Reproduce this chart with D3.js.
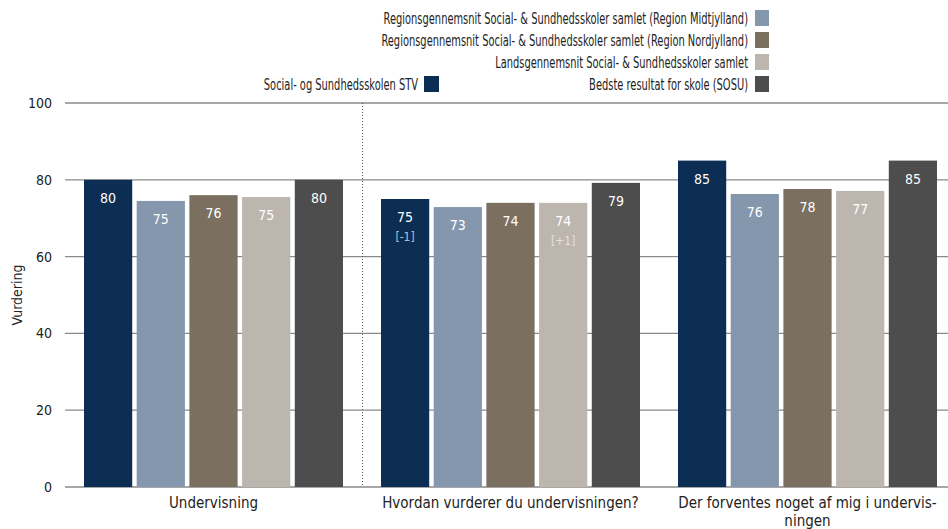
<!DOCTYPE html>
<html><head><meta charset="utf-8">
<script src="https://cdn.jsdelivr.net/npm/d3@7"></script>
<style>body{margin:0;background:#fff}svg{display:block}text{font-family:"DejaVu Sans Condensed","DejaVu Sans",sans-serif}</style>
</head><body><svg id="c" width="948" height="529"></svg>
<script>
const categories = ["Undervisning", "Hvordan vurderer du undervisningen?", "Der forventes noget af mig i undervis-|ningen"];
const seriesNames = [
  "Social- og Sundhedsskolen STV",
  "Regionsgennemsnit Social- & Sundhedsskoler samlet (Region Midtjylland)",
  "Regionsgennemsnit Social- & Sundhedsskoler samlet (Region Nordjylland)",
  "Landsgennemsnit Social- & Sundhedsskoler samlet",
  "Bedste resultat for skole (SOSU)"
];
const colors = ["#0c2e55", "#8597ac", "#7b6f5f", "#bdb6af", "#4d4d4d"];
const valuesSTV = [80, 75, 85];
const valuesMidt = [74.5, 72.9, 76.3];
const valuesNord = [76, 74, 77.6];
const valuesLand = [75.5, 74, 77.1];
const valuesBest = [80, 79.2, 85];
const labelsSTV = ["80", "75", "85"];
const labelsMidt = ["75", "73", "76"];
const labelsNord = ["76", "74", "78"];
const labelsLand = ["75", "74", "77"];
const labelsBest = ["80", "79", "85"];
const subSTV = ["", "[-1]", ""];
const subMidt = ["", "", ""];
const subNord = ["", "", ""];
const subLand = ["", "[+1]", ""];
const subBest = ["", "", ""];
const yTicks = [0, 20, 40, 60, 80, 100];

const allVals = [valuesSTV, valuesMidt, valuesNord, valuesLand, valuesBest];
const allLabels = [labelsSTV, labelsMidt, labelsNord, labelsLand, labelsBest];
const allSubs = [subSTV, subMidt, subNord, subLand, subBest];

const svg = d3.select("#c");
const mLeft = 65, mRight = 956, mTop = 103, mBottom = 487;
const x0 = d3.scaleBand().domain(categories).range([mLeft, mRight]).paddingInner(0).paddingOuter(0);
const x1 = d3.scaleBand().domain(d3.range(5)).range([19, 297 - 19]).paddingInner(0.085);
const y = d3.scaleLinear().domain([0, 100]).range([mBottom, mTop]);

// grid
svg.append("g").selectAll("line").data(yTicks).join("line")
  .attr("x1", mLeft).attr("x2", 948)
  .attr("y1", d => y(d)).attr("y2", d => y(d))
  .attr("stroke", "#8a8a8a").attr("stroke-width", 1.3);

// y axis labels
const yAxis = d3.axisLeft(y).tickValues(yTicks).tickSize(0).tickPadding(0);
const ga = svg.append("g").attr("transform", `translate(52,0)`).call(yAxis);
ga.select(".domain").remove();
ga.selectAll("text").attr("font-size", 14).attr("fill", "#222").style("font-family", '"DejaVu Sans Condensed",sans-serif');

// separator
svg.append("line").attr("x1", 362.5).attr("x2", 362.5).attr("y1", y(100)).attr("y2", y(0))
  .attr("stroke", "#555").attr("stroke-width", 1).attr("stroke-dasharray", "1,2");

// bars
const data = [];
categories.forEach((c, ci) => allVals.forEach((vs, si) => data.push({c, ci, si, v: vs[ci], lab: allLabels[si][ci], sub: allSubs[si][ci]})));
const g = svg.append("g");
g.selectAll("rect").data(data).join("rect")
  .attr("x", d => x0(d.c) + x1(d.si)).attr("width", x1.bandwidth())
  .attr("y", d => y(d.v)).attr("height", d => y(0) - y(d.v))
  .attr("fill", d => colors[d.si]);
g.selectAll("text.v").data(data).join("text").attr("class", "v")
  .attr("x", d => x0(d.c) + x1(d.si) + x1.bandwidth() / 2)
  .attr("y", d => y(d.v) + 23)
  .attr("text-anchor", "middle").attr("font-size", 14).attr("fill", "#fff").text(d => d.lab);
g.selectAll("text.s").data(data.filter(d => d.sub)).join("text").attr("class", "s")
  .attr("x", d => x0(d.c) + x1(d.si) + x1.bandwidth() / 2)
  .attr("y", d => y(d.v) + 42)
  .attr("text-anchor", "middle").attr("font-size", 12).attr("fill", "rgba(235,240,248,0.75)").text(d => d.sub);

// x labels
const xl = svg.append("g");
categories.forEach(c => {
  const t = xl.append("text").attr("x", x0(c) + x0.bandwidth() / 2).attr("y", 508)
    .attr("text-anchor", "middle").attr("font-size", 15).attr("fill", "#222");
  c.split("|").forEach((line, i) => t.append("tspan").attr("x", x0(c) + x0.bandwidth() / 2).attr("dy", i ? 18 : 0).text(line));
});

// y title
svg.append("text").attr("transform", `translate(22,${(mTop + mBottom) / 2}) rotate(-90)`)
  .attr("text-anchor", "middle").attr("font-size", 14).attr("fill", "#222").text("Vurdering");

// legend (narrow face emulated with horizontal compression)
const legendScale = 0.733;
const legendRight = [1, 2, 3, 4];
const lg = svg.append("g");
function legendText(xr, cy, txt) {
  lg.append("g").attr("transform", `translate(${xr},${cy + 5.5}) scale(${legendScale},1)`)
    .append("text").attr("x", 0).attr("y", 0).attr("text-anchor", "end")
    .attr("font-size", 15).attr("fill", "#222").text(txt);
}
legendRight.forEach((si, i) => {
  const cy = 18 + i * 22;
  lg.append("rect").attr("x", 755).attr("y", cy - 8).attr("width", 14).attr("height", 16).attr("fill", colors[si]);
  legendText(748, cy, seriesNames[si]);
});
lg.append("rect").attr("x", 424).attr("y", 84 - 8).attr("width", 15).attr("height", 16).attr("fill", colors[0]);
legendText(418, 84, seriesNames[0]);
</script></body></html>
